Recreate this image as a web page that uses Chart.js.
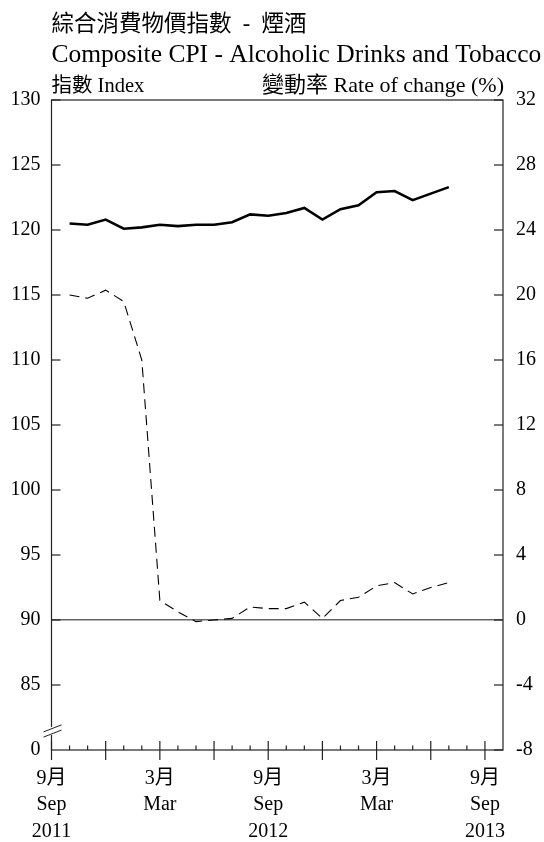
<!DOCTYPE html>
<html>
<head>
<meta charset="utf-8">
<script src="https://cdn.jsdelivr.net/npm/chart.js@4.4.1/dist/chart.umd.min.js"></script>
<style>
html,body{margin:0;padding:0;background:#fff;}
canvas{display:block;}
</style>
</head>
<body>
<canvas id="c" width="544" height="842"></canvas>
<script>
// ---- data ----
const months = ['2011-10','2011-11','2011-12','2012-01','2012-02','2012-03','2012-04','2012-05','2012-06','2012-07','2012-08','2012-09','2012-10','2012-11','2012-12','2013-01','2013-02','2013-03','2013-04','2013-05','2013-06','2013-07'];
const indexValues = [120.5,120.4,120.8,120.1,120.2,120.4,120.3,120.4,120.4,120.6,121.2,121.1,121.3,121.7,120.8,121.6,121.9,122.9,123.0,122.3,122.8,123.3];
const rateValues = [20.0,19.8,20.3,19.6,16.0,1.2,0.5,-0.1,0.0,0.1,0.8,0.7,0.7,1.1,0.1,1.2,1.4,2.1,2.3,1.6,2.0,2.3];
const axisStartMonth = '2011-09';
const axisEndMonth = '2013-10';
const leftTicks = [80,85,90,95,100,105,110,115,120,125,130]; // 80 is shown as 0 (broken axis)
const leftTickLabels = ['0','85','90','95','100','105','110','115','120','125','130'];
const rightTicks = [-8,-4,0,4,8,12,16,20,24,28,32];
const xTickLabels = {
  '2011-09': ['9月','Sep','2011'],
  '2012-03': ['3月','Mar'],
  '2012-09': ['9月','Sep','2012'],
  '2013-03': ['3月','Mar'],
  '2013-09': ['9月','Sep','2013']
};
const titleZh = '綜合消費物價指數  -  煙酒';
const titleEn = 'Composite CPI - Alcoholic Drinks and Tobacco';
const leftAxisTitle = '指數 Index';
const rightAxisTitle = '變動率 Rate of change (%)';

// ---- helpers ----
function monthOffset(s){
  const [y,m] = s.split('-').map(Number);
  const [y0,m0] = axisStartMonth.split('-').map(Number);
  return (y-y0)*12 + (m-m0);
}
function offsetToMonth(o){
  const [y0,m0] = axisStartMonth.split('-').map(Number);
  const t = y0*12 + (m0-1) + o;
  const y = Math.floor(t/12), m = t%12 + 1;
  return y + '-' + String(m).padStart(2,'0');
}
const FONT = '"Liberation Serif", "Noto Sans CJK TC", serif';

const frame = {
  id: 'frame',
  afterDraw(chart){
    const {ctx, chartArea:a, scales} = chart;
    const x = scales.x, y = scales.y, y1 = scales.y1;
    ctx.save();
    const line = (x1,yy1,x2,yy2)=>{ctx.beginPath();ctx.moveTo(x1,yy1);ctx.lineTo(x2,yy2);ctx.stroke();};
    ctx.strokeStyle = '#222';
    ctx.lineWidth = 1.2;
    ctx.strokeRect(a.left, a.top, a.right-a.left, a.bottom-a.top);
    // left ticks (inward)
    leftTicks.forEach((v,i)=>{ if(i===0) return; const p=y.getPixelForValue(v); line(a.left,p,a.left+9,p); });
    // right ticks (inward)
    rightTicks.forEach(v=>{ const p=y1.getPixelForValue(v); line(a.right-9,p,a.right,p); });
    // x ticks
    x.ticks.forEach(t=>{
      if (t.value >= x.max) return;
      const p = x.getPixelForValue(t.value);
      if (t.value % 3 === 0) line(p, a.bottom-9, p, a.bottom+10);
      else line(p, a.bottom-4.5, p, a.bottom);
    });
    // axis break
    const c = a.bottom - 19;
    ctx.fillStyle = '#fff';
    ctx.fillRect(a.left-1.5, c-4, 3, 8);
    ctx.lineWidth = 1;
    [-2.6, 2.6].forEach(d=>line(a.left-8, c+d+3.5, a.left+10, c+d-3.5));
    // titles
    ctx.fillStyle = '#000';
    ctx.textBaseline = 'alphabetic';
    ctx.textAlign = 'left';
    ctx.font = '22.5px ' + FONT;
    ctx.fillText(titleZh, a.left, 31);
    ctx.font = '25.5px ' + FONT;
    ctx.fillText(titleEn, a.left, 61.5);
    ctx.font = '20.5px ' + FONT;
    ctx.fillText(leftAxisTitle, a.left, 92);
    ctx.font = '22px ' + FONT;
    ctx.textAlign = 'right';
    ctx.fillText(rightAxisTitle, a.right + 1, 92);
    ctx.restore();
  }
};

const xmin = monthOffset(axisStartMonth), xmax = monthOffset(axisEndMonth);

new Chart(document.getElementById('c'), {
  type: 'line',
  data: {
    datasets: [
      {
        label: 'Index',
        data: months.map((m,i)=>({x: monthOffset(m), y: indexValues[i]})),
        yAxisID: 'y',
        borderColor: '#000',
        borderWidth: 2.6,
        pointRadius: 0,
        tension: 0,
        fill: false
      },
      {
        label: 'Rate of change (%)',
        data: months.map((m,i)=>({x: monthOffset(m), y: rateValues[i]})),
        yAxisID: 'y1',
        borderColor: '#000',
        borderWidth: 1.1,
        borderDash: [10,6],
        pointRadius: 0,
        tension: 0,
        fill: false
      }
    ]
  },
  options: {
    responsive: false,
    animation: false,
    devicePixelRatio: 1,
    layout: { padding: { top: 100, left: 0, right: 0, bottom: 0 } },
    plugins: { legend: { display: false }, tooltip: { enabled: false }, title: { display: false } },
    scales: {
      x: {
        type: 'linear',
        min: xmin, max: xmax,
        grid: { display: false, drawTicks: false },
        border: { display: false },
        ticks: {
          stepSize: 1, autoSkip: false, maxRotation: 0, minRotation: 0,
          padding: 15, color: '#000',
          font: { family: FONT, size: 20, lineHeight: 1.33 },
          callback: (v)=> xTickLabels[offsetToMonth(v)] || ''
        },
        afterFit(s){ s.height = 92; }
      },
      y: {
        type: 'linear', position: 'left',
        min: leftTicks[0], max: leftTicks[leftTicks.length-1],
        grid: { display: false, drawTicks: false },
        border: { display: false },
        afterBuildTicks(s){ s.ticks = leftTicks.map(v=>({value:v})); },
        ticks: {
          padding: 11, color: '#000',
          font: { family: FONT, size: 20 },
          callback: (v)=> leftTickLabels[leftTicks.indexOf(v)]
        },
        afterFit(s){ s.width = 51.5; }
      },
      y1: {
        type: 'linear', position: 'right',
        min: rightTicks[0], max: rightTicks[rightTicks.length-1],
        grid: {
          display: true, drawOnChartArea: true, drawTicks: false,
          color: (c)=> (c.tick && c.tick.value === 0) ? '#666' : 'rgba(0,0,0,0)',
          lineWidth: 1.5
        },
        border: { display: false },
        afterBuildTicks(s){ s.ticks = rightTicks.map(v=>({value:v})); },
        ticks: {
          padding: 13, color: '#000',
          font: { family: FONT, size: 20 }
        },
        afterFit(s){ s.width = 41; }
      }
    }
  },
  plugins: [frame]
});
</script>
</body>
</html>
